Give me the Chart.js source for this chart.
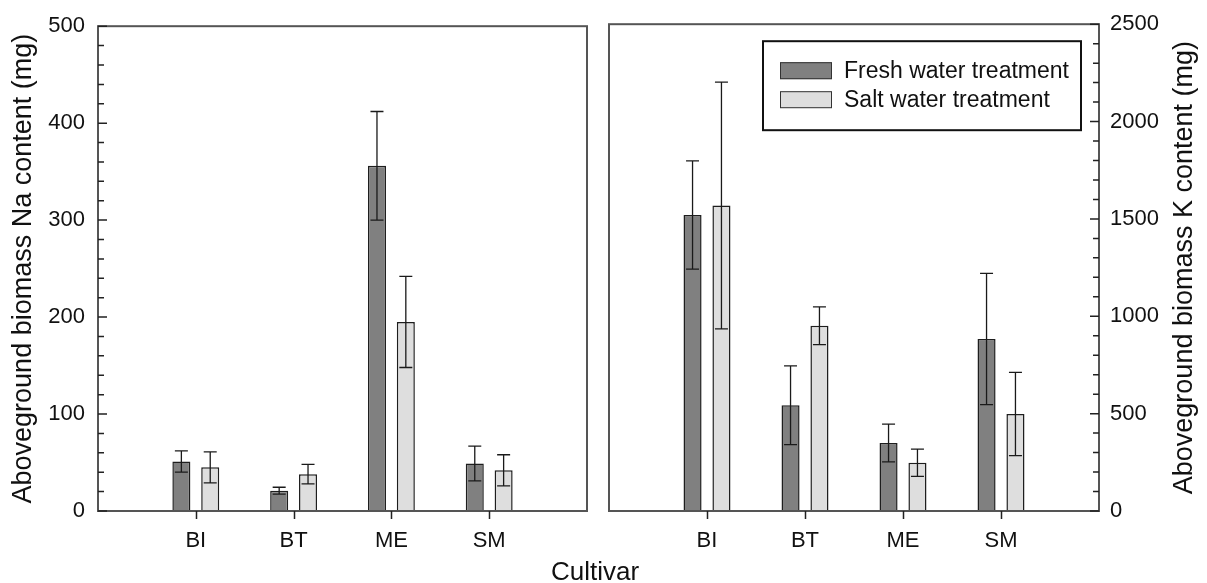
<!DOCTYPE html>
<html>
<head>
<meta charset="utf-8">
<script src="https://cdn.jsdelivr.net/npm/chart.js@4.4.1/dist/chart.umd.min.js"></script>
<style>
    body { margin: 0; background: #fff; width: 1207px; height: 583px; overflow: hidden; position: relative;
           font-family: "Liberation Sans", Arial, sans-serif; }
    canvas { position: absolute; top: 0; }
    #naChart { left: 0; }
    #kChart { left: 598px; }
    #xTitle { position: absolute; left: 0; width: 1190px; top: 558px; text-align: center;
              font-size: 26px; line-height: 26px; color: #111; }
</style>
</head>
<body>
<canvas id="naChart" width="598" height="583"></canvas>
<canvas id="kChart" width="609" height="583"></canvas>
<div id="xTitle">Cultivar</div>
<script>
const categories = ["BI", "BT", "ME", "SM"];

// Na content (mg), left panel
const naFresh = [51, 21, 356, 49];
const naFreshErr = [11, 3.5, 56, 18];
const naSalt = [45, 38, 195, 42];
const naSaltErr = [16, 10, 47, 16];

// K content (mg), right panel
const kFresh = [1520, 543, 349, 883];
const kFreshErr = [278, 202, 97, 337];
const kSalt = [1569, 951, 248, 498];
const kSaltErr = [634, 97, 70, 214];

const FONT = '"Liberation Sans", Arial, sans-serif';
const INK = "#111";
const FRESH = "#808080";
const SALT = "#dedede";

// empty slots at both ends so the cultivars sit at 1/5 ... 4/5 of each panel
const labels = ["", ...categories, ""];
const pad = arr => [null, ...arr, null];

function decor(side, title, showLegend) {
    return {
        id: "decor",
        afterDatasetsDraw(chart) {
            // error bars
            const ctx = chart.ctx, y = chart.scales.y;
            ctx.save();
            ctx.strokeStyle = "#1a1a1a";
            ctx.lineWidth = 1.3;
            chart.data.datasets.forEach((ds, i) => {
                chart.getDatasetMeta(i).data.forEach((bar, j) => {
                    const v = ds.data[j];
                    if (v == null) return;
                    const top = y.getPixelForValue(v + ds.errors[j]);
                    const bot = y.getPixelForValue(v - ds.errors[j]);
                    ctx.beginPath();
                    ctx.moveTo(bar.x, top); ctx.lineTo(bar.x, bot);
                    ctx.moveTo(bar.x - 6.5, top); ctx.lineTo(bar.x + 6.5, top);
                    ctx.moveTo(bar.x - 6.5, bot); ctx.lineTo(bar.x + 6.5, bot);
                    ctx.stroke();
                });
            });
            ctx.restore();
        },
        afterDraw(chart) {
            const ctx = chart.ctx, a = chart.chartArea, y = chart.scales.y, xs = chart.scales.x;
            ctx.save();

            // frame
            ctx.strokeStyle = "#555";
            ctx.lineWidth = 2;
            ctx.strokeRect(a.left, a.top, a.right - a.left, a.bottom - a.top);

            // inward y ticks, 4 minor between majors
            const x0 = side === "left" ? a.left : a.right;
            const dir = side === "left" ? 1 : -1;
            const step = y.ticks[1].value - y.ticks[0].value;
            ctx.strokeStyle = "#222";
            ctx.lineWidth = 1.5;
            ctx.beginPath();
            y.ticks.forEach(t => {
                const py = y.getPixelForValue(t.value);
                ctx.moveTo(x0, py); ctx.lineTo(x0 + dir * 9, py);
                for (let k = 1; k < 5; k++) {
                    const v = t.value + k * step / 5;
                    if (v >= y.max) break;
                    const pm = y.getPixelForValue(v);
                    ctx.moveTo(x0, pm); ctx.lineTo(x0 + dir * 6, pm);
                }
            });
            // outward x ticks under each cultivar
            for (let i = 1; i < labels.length - 1; i++) {
                const px = Math.round(xs.getPixelForTick(i)) + 0.5;
                ctx.moveTo(px, a.bottom);
                ctx.lineTo(px, a.bottom + 8);
            }
            ctx.stroke();

            // y title, reads bottom to top on both sides
            ctx.fillStyle = INK;
            ctx.font = "27px " + FONT;
            ctx.textAlign = "center";
            ctx.textBaseline = "middle";
            ctx.save();
            ctx.translate(side === "left" ? a.left - 74 : a.right + 86, (a.top + a.bottom) / 2);
            ctx.rotate(-Math.PI / 2);
            ctx.fillText(title, 0, 0);
            ctx.restore();

            // legend box
            if (showLegend) {
                const bw = 318, bh = 89;
                const bx = a.right - 18 - bw, by = a.top + 17;
                ctx.strokeStyle = "#111";
                ctx.lineWidth = 2;
                ctx.strokeRect(bx, by, bw, bh);
                ctx.textAlign = "left";
                ctx.font = "23px " + FONT;
                chart.data.datasets.forEach((ds, i) => {
                    const sy = by + 21 + i * 29;
                    ctx.fillStyle = ds.backgroundColor;
                    ctx.fillRect(bx + 17, sy, 52, 17);
                    ctx.strokeStyle = "#333";
                    ctx.lineWidth = 1;
                    ctx.strokeRect(bx + 17.5, sy + 0.5, 51, 16);
                    ctx.fillStyle = INK;
                    ctx.fillText(ds.label, bx + 81, sy + 9);
                });
            }
            ctx.restore();
        }
    };
}

function makePanel(id, fresh, freshErr, salt, saltErr, max, step, side, title, showLegend) {
    const ctx = document.getElementById(id).getContext("2d");
    const bar = {
        borderColor: "#1e1e1e",
        borderWidth: 1.5,
        categoryPercentage: 0.59,
        barPercentage: 0.625
    };
    return new Chart(ctx, {
        type: "bar",
        data: {
            labels: labels,
            datasets: [
                { ...bar, label: "Fresh water treatment", data: pad(fresh), errors: pad(freshErr), backgroundColor: FRESH },
                { ...bar, label: "Salt water treatment", data: pad(salt), errors: pad(saltErr), backgroundColor: SALT }
            ]
        },
        options: {
            responsive: false,
            animation: false,
            layout: {
                padding: side === "left"
                    ? { top: 24, right: 11, left: 0, bottom: 0 }
                    : { top: 24, right: 0, left: 11, bottom: 0 }
            },
            plugins: {
                legend: { display: false },
                tooltip: { enabled: false }
            },
            scales: {
                x: {
                    offset: false,
                    // invisible tick marks only keep the labels clear of the axis
                    grid: {
                        offset: false,
                        drawOnChartArea: false,
                        drawTicks: true,
                        tickLength: 7,
                        tickColor: "rgba(0,0,0,0)"
                    },
                    border: { display: false },
                    ticks: { font: { family: FONT, size: 22 }, color: INK, padding: 10, maxRotation: 0, autoSkip: false },
                    afterFit: s => { s.height = 72; }
                },
                y: {
                    position: side,
                    min: 0,
                    max: max,
                    grid: { display: false, drawTicks: false },
                    border: { display: false },
                    ticks: {
                        stepSize: step,
                        font: { family: FONT, size: 22 },
                        color: INK,
                        padding: side === "left" ? 13 : 11,
                        callback: v => String(v)
                    },
                    afterFit: s => { s.width = side === "left" ? 98 : 108; }
                }
            }
        },
        plugins: [decor(side, title, showLegend)]
    });
}

makePanel("naChart", naFresh, naFreshErr, naSalt, naSaltErr, 500, 100, "left",
    "Aboveground biomass Na content (mg)", false);
makePanel("kChart", kFresh, kFreshErr, kSalt, kSaltErr, 2500, 500, "right",
    "Aboveground biomass K content (mg)", true);
</script>
</body>
</html>
